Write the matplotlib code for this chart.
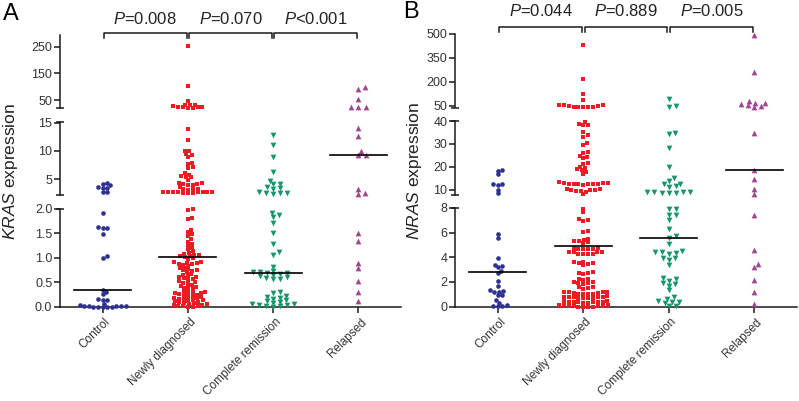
import numpy as np
import matplotlib
matplotlib.use('Agg')
import matplotlib.pyplot as plt
from matplotlib import transforms

plt.rcParams['font.family'] = 'Liberation Sans'
plt.rcParams['mathtext.fontset'] = 'custom'
plt.rcParams['mathtext.rm'] = 'Liberation Sans'
plt.rcParams['mathtext.it'] = 'Liberation Sans:italic'

# groups and styles
groups = ['Control', 'Newly diagnosed', 'Complete remission', 'Relapsed']
colors = ['#2E3192', '#EC1C24', '#16976A', '#A2448F']
markers = ['o', 's', 'v', '^']

# KRAS expression (panel A)
kras_control = [4.3, 4.1, 3.9, 3.6, 3.5, 3.4, 2.8, 2.7, 1.92, 1.63, 1.62, 1.61, 1.49,
                1.03, 1.0, 0.34, 0.3, 0.26, 0.15, 0.14, 0.13, 0.06, 0.04, 0.02, 0.01,
                0.01, 0.0, 0.0, 0.0, 0.0, 0.0, 0.01, 0.02]
kras_newly = [252, 102, 46, 33, 31, 25, 22, 21, 21, 22, 24, 27, 32,
              13.8, 12.0, 10.0, 9.9, 9.5, 9.2, 9.0, 7.9, 7.7, 7.1, 7.0, 6.0, 5.8, 5.5,
              5.4, 5.3, 4.9, 4.4, 4.3, 4.2, 4.1, 4.0, 3.9, 3.6, 3.25, 3.2, 3.2, 3.15,
              2.8, 2.75, 2.7, 2.65, 2.6, 2.6, 2.6, 2.65, 2.7, 2.75, 2.8,
              2.0, 1.98, 1.82, 1.79, 1.57, 1.52, 1.48, 1.44, 1.38, 1.33, 1.28, 1.24,
              1.2, 1.17, 1.13, 1.1, 1.08, 1.06, 1.05, 1.04, 1.03, 1.02,
              0.99, 0.97, 0.92, 0.91, 0.9, 0.89, 0.88, 0.87, 0.86, 0.84, 0.8, 0.78,
              0.76, 0.75, 0.74, 0.73, 0.7, 0.67, 0.65, 0.62, 0.61, 0.6, 0.59, 0.57,
              0.55, 0.52, 0.5, 0.49, 0.48, 0.45, 0.43, 0.41, 0.4, 0.38, 0.36, 0.34,
              0.3, 0.29, 0.28, 0.27, 0.27, 0.26, 0.25, 0.24, 0.22, 0.21,
              0.2, 0.19, 0.18, 0.17, 0.16, 0.15, 0.14, 0.13, 0.12, 0.11,
              0.1, 0.09, 0.08, 0.07, 0.06, 0.05, 0.04, 0.03,
              0.02, 0.01, 0.01, 0.0, 0.0]
kras_complete = [12.8, 11.1, 8.9, 6.3, 4.7, 4.2, 4.1, 3.6, 3.3, 2.6, 2.5, 2.4, 2.5, 2.7, 3.5,
                 1.91, 1.88, 1.83, 1.71, 1.5, 1.28, 1.11, 1.06, 0.82, 0.72, 0.71, 0.7,
                 0.69, 0.68, 0.66, 0.64, 0.62, 0.6, 0.58, 0.57, 0.56,
                 0.3, 0.28, 0.22, 0.2, 0.18, 0.16, 0.14, 0.12, 0.1, 0.08, 0.06, 0.05,
                 0.04, 0.03, 0.02, 0.01, 0.0]
kras_relapsed = [98, 90, 52, 24, 23, 23, 14.0, 12.6, 10.0, 9.35, 9.35, 3.2, 2.6, 2.3,
                 1.5, 1.35, 0.9, 0.78, 0.53, 0.3, 0.11]
kras_medians = [0.33, 1.02, 0.69, 9.3]
kras_p = ['$\\mathit{P}$=0.008', '$\\mathit{P}$=0.070', '$\\mathit{P}$<0.001']

# NRAS expression (panel B)
nras_control = [18.5, 18.4, 17.0, 12.7, 12.5, 12.3, 10.0, 8.5, 5.9, 5.6, 3.9, 3.4, 3.3,
                3.2, 2.9, 2.7, 2.1, 1.7, 1.3, 1.25, 1.2, 1.15, 0.95, 0.9, 0.5, 0.3,
                0.05, 0.05, 0.05, 0.1]
nras_newly = [431, 219, 123, 87, 56, 53, 48, 45, 43, 42, 43, 46, 50, 55,
              39.5, 38.3, 38.3, 38.8, 35.3, 33.8, 33.2, 30.5, 29.7, 26.5, 26.0, 24.8,
              24.5, 23.8, 21.8, 21.5, 20.0, 19.5, 19.0, 18.5, 18.0, 17.0,
              13.3, 13.0, 12.8, 12.6, 12.4, 12.3, 12.4, 12.6, 12.8, 13.0, 13.2,
              10.2, 10.0, 9.8, 9.5, 8.2, 9.3, 9.6, 9.9, 10.2,
              7.95, 7.7, 7.1, 7.0, 6.95, 6.1, 6.05, 5.5, 5.4, 5.3, 5.3, 5.2, 5.15,
              4.75, 4.7, 4.7, 4.65, 4.7, 4.75, 4.45, 4.4, 4.3, 4.25, 4.25, 4.3, 4.4,
              4.45, 3.65, 3.55, 3.45, 3.4, 3.5, 3.6, 2.75, 2.7, 2.65, 2.8, 2.25, 2.2,
              2.15, 1.95, 1.9, 1.85, 1.9, 1.95, 1.55, 1.5, 1.45, 1.6,
              1.2, 1.15, 1.1, 1.05, 1.0, 1.0, 1.05, 1.1, 1.15, 1.2,
              0.8, 0.75, 0.7, 0.7, 0.65, 0.7, 0.75, 0.8, 0.85, 0.8,
              0.45, 0.4, 0.35, 0.3, 0.3, 0.35, 0.4, 0.45, 0.4, 0.35,
              0.1, 0.05, 0.05, 0.0, 0.0, 0.0, 0.05, 0.05, 0.1, 0.1, 0.0]
nras_complete = [93, 45, 50,
                 34.9, 34.3, 28.1, 19.8, 15.2, 14.0, 12.8, 12.6, 11.5, 11.3,
                 9.2, 8.9, 8.8, 8.8, 8.8, 8.9, 9.1,
                 7.95, 7.9, 7.4, 7.4, 7.0, 6.3, 5.7, 5.6, 5.1, 4.5, 4.4, 4.4, 4.35,
                 4.3, 3.95, 3.9, 3.75, 3.35, 2.3, 2.2, 2.1, 1.9, 1.85, 1.7, 1.35,
                 0.75, 0.6, 0.45, 0.4, 0.35, 0.3, 0.05, 0.05]
nras_relapsed = [494, 260, 83, 71, 68, 64, 58, 50, 42, 34.9, 18.7, 14.7, 10.4, 8.1,
                 7.45, 4.55, 3.47, 3.2, 2.17, 1.2, 0.22]
nras_medians = [2.8, 4.9, 5.6, 18.7]
nras_p = ['$\\mathit{P}$=0.044', '$\\mathit{P}$=0.889', '$\\mathit{P}$=0.005']

# broken y axis segments, bottom to top
kras_lims = [(0, 2.0), (2.2, 15.1), (20, 294)]
kras_ticks = [[0, 0.5, 1.0, 1.5, 2.0], [5, 10, 15], [50, 150, 250]]
kras_labels = [['0.0', '0.5', '1.0', '1.5', '2.0'], ['5', '10', '15'], ['50', '150', '250']]
nras_lims = [(0, 8), (7.8, 40), (40, 500)]
nras_ticks = [[0, 2, 4, 6, 8], [10, 20, 30, 40], [50, 200, 350, 500]]
nras_labels = [['0', '2', '4', '6', '8'], ['10', '20', '30', '40'], ['50', '200', '350', '500']]

W, H = 799, 401
fig = plt.figure(figsize=(W / 100, H / 100), dpi=100)
ink = '#1a1a1a'


def swarm(y, dw, dh):
    # simple beeswarm in pixel space
    x = np.zeros(len(y))
    done = []
    for i in np.argsort(y):
        cands = [0.0]
        for j in done:
            dy = abs(y[i] - y[j])
            if dy < dh:
                dx = dw * np.sqrt(1 - (dy / dh) ** 2)
                cands += [x[j] + dx, x[j] - dx]
        cands.sort(key=lambda c: (round(abs(c), 6), -c))
        for c in cands:
            ok = all(((c - x[j]) / dw) ** 2 + ((y[i] - y[j]) / dh) ** 2 >= 0.999 for j in done)
            if ok:
                x[i] = c
                break
        done.append(i)
    return x


def panel(x0, x1, rows, lims, ticks, labels, data, medians, ylabel, ylab_x,
          letter, letter_xy, pvals, br_y, p_y):
    axes = []
    for k, ((lo, hi), (yb, yt)) in enumerate(zip(lims, rows)):
        ax = fig.add_axes([x0 / W, 1 - yb / H, (x1 - x0) / W, (yb - yt) / H])
        ax.set_xlim(-0.5, 3.5)
        ax.set_ylim(lo, hi)
        ax.patch.set_alpha(0)
        for s in ['top', 'right']:
            ax.spines[s].set_visible(False)
        ax.spines['left'].set_linewidth(1.1)
        ax.spines['left'].set_color(ink)
        ax.set_yticks(ticks[k])
        ax.set_yticklabels(labels[k])
        ax.tick_params(axis='y', direction='out', length=4, width=1.1, color=ink,
                       labelsize=9, labelcolor='#333333', pad=1.5)
        if k == 0:
            ax.spines['bottom'].set_linewidth(1.1)
            ax.spines['bottom'].set_color(ink)
            ax.set_xticks(range(4))
            ax.set_xticklabels(groups, rotation=45, ha='right', va='center',
                               rotation_mode='anchor')
            ax.tick_params(axis='x', direction='out', length=4, width=1.1, color=ink,
                           labelsize=8.5, labelcolor='#333333', pad=6)
            off = transforms.ScaledTranslation(0.06, 0, fig.dpi_scale_trans)
            for lab in ax.get_xticklabels():
                lab.set_transform(lab.get_transform() + off)
        else:
            ax.spines['bottom'].set_visible(False)
            ax.set_xticks([])
        # break caps
        cw = 4 / (x1 - x0)
        ends = []
        if k > 0:
            ends.append(0)
        if k < len(lims) - 1:
            ends.append(1)
        for e in ends:
            ax.plot([-cw, cw], [e, e], transform=ax.transAxes, color=ink, lw=1.1,
                    clip_on=False, solid_capstyle='butt')
        axes.append(ax)

    unit = (x1 - x0) / 4.0
    sp = [(4.6, 3.2), (4.9, 3.0), (7.2, 3.8), (7.5, 4.0)]
    sz = [11, 10, 17, 17]
    for g, vals in enumerate(data):
        vals = np.asarray(vals, dtype=float)
        seg = np.array([0 if v <= lims[0][1] else (1 if v <= lims[1][1] else 2) for v in vals])
        ypix = np.array([axes[s].transData.transform((0, v))[1] for s, v in zip(seg, vals)])
        dx = swarm(ypix, *sp[g]) / unit
        for s, ax in enumerate(axes):
            m = seg == s
            ax.scatter(g + dx[m], vals[m], s=sz[g], marker=markers[g], color=colors[g],
                       linewidths=0, clip_on=False, zorder=3)
        med = medians[g]
        ms = 0 if med <= lims[0][1] else (1 if med <= lims[1][1] else 2)
        axes[ms].plot([g - 0.335, g + 0.335], [med, med], color='black', lw=1.2, zorder=4)

    # p-value brackets
    top = axes[-1]
    tr = transforms.blended_transform_factory(top.transData, fig.transFigure)
    for i, p in enumerate(pvals):
        a, b = i + 0.015, i + 0.985
        yh, yl = 1 - br_y / H, 1 - (br_y + 4.5) / H
        top.plot([a, a, b, b], [yl, yh, yh, yl], transform=tr, color=ink, lw=1.1,
                 clip_on=False)
        top.text(i + 0.5, 1 - p_y / H, p, transform=tr, ha='center', va='center',
                 fontsize=12, color='#222222')

    fig.text(ylab_x / W, 1 - 171 / H, ylabel, rotation=90, ha='center', va='center',
             fontsize=12.5, color='#222222')
    fig.text(letter_xy[0] / W, 1 - letter_xy[1] / H, letter, ha='center', va='center',
             fontsize=17, color='black')


panel(60, 401, [(306.5, 209), (195, 122), (108, 35)], kras_lims, kras_ticks, kras_labels,
      [kras_control, kras_newly, kras_complete, kras_relapsed], kras_medians,
      '$\\mathit{KRAS}$ expression', 11, 'A', (11, 14), kras_p, 33, 19)
panel(455, 797, [(306.5, 208), (195, 121), (107.5, 34)], nras_lims, nras_ticks, nras_labels,
      [nras_control, nras_newly, nras_complete, nras_relapsed], nras_medians,
      '$\\mathit{NRAS}$ expression', 415, 'B', (411, 12.5), nras_p, 27.3, 11)

fig.savefig('out.png', dpi=100)
